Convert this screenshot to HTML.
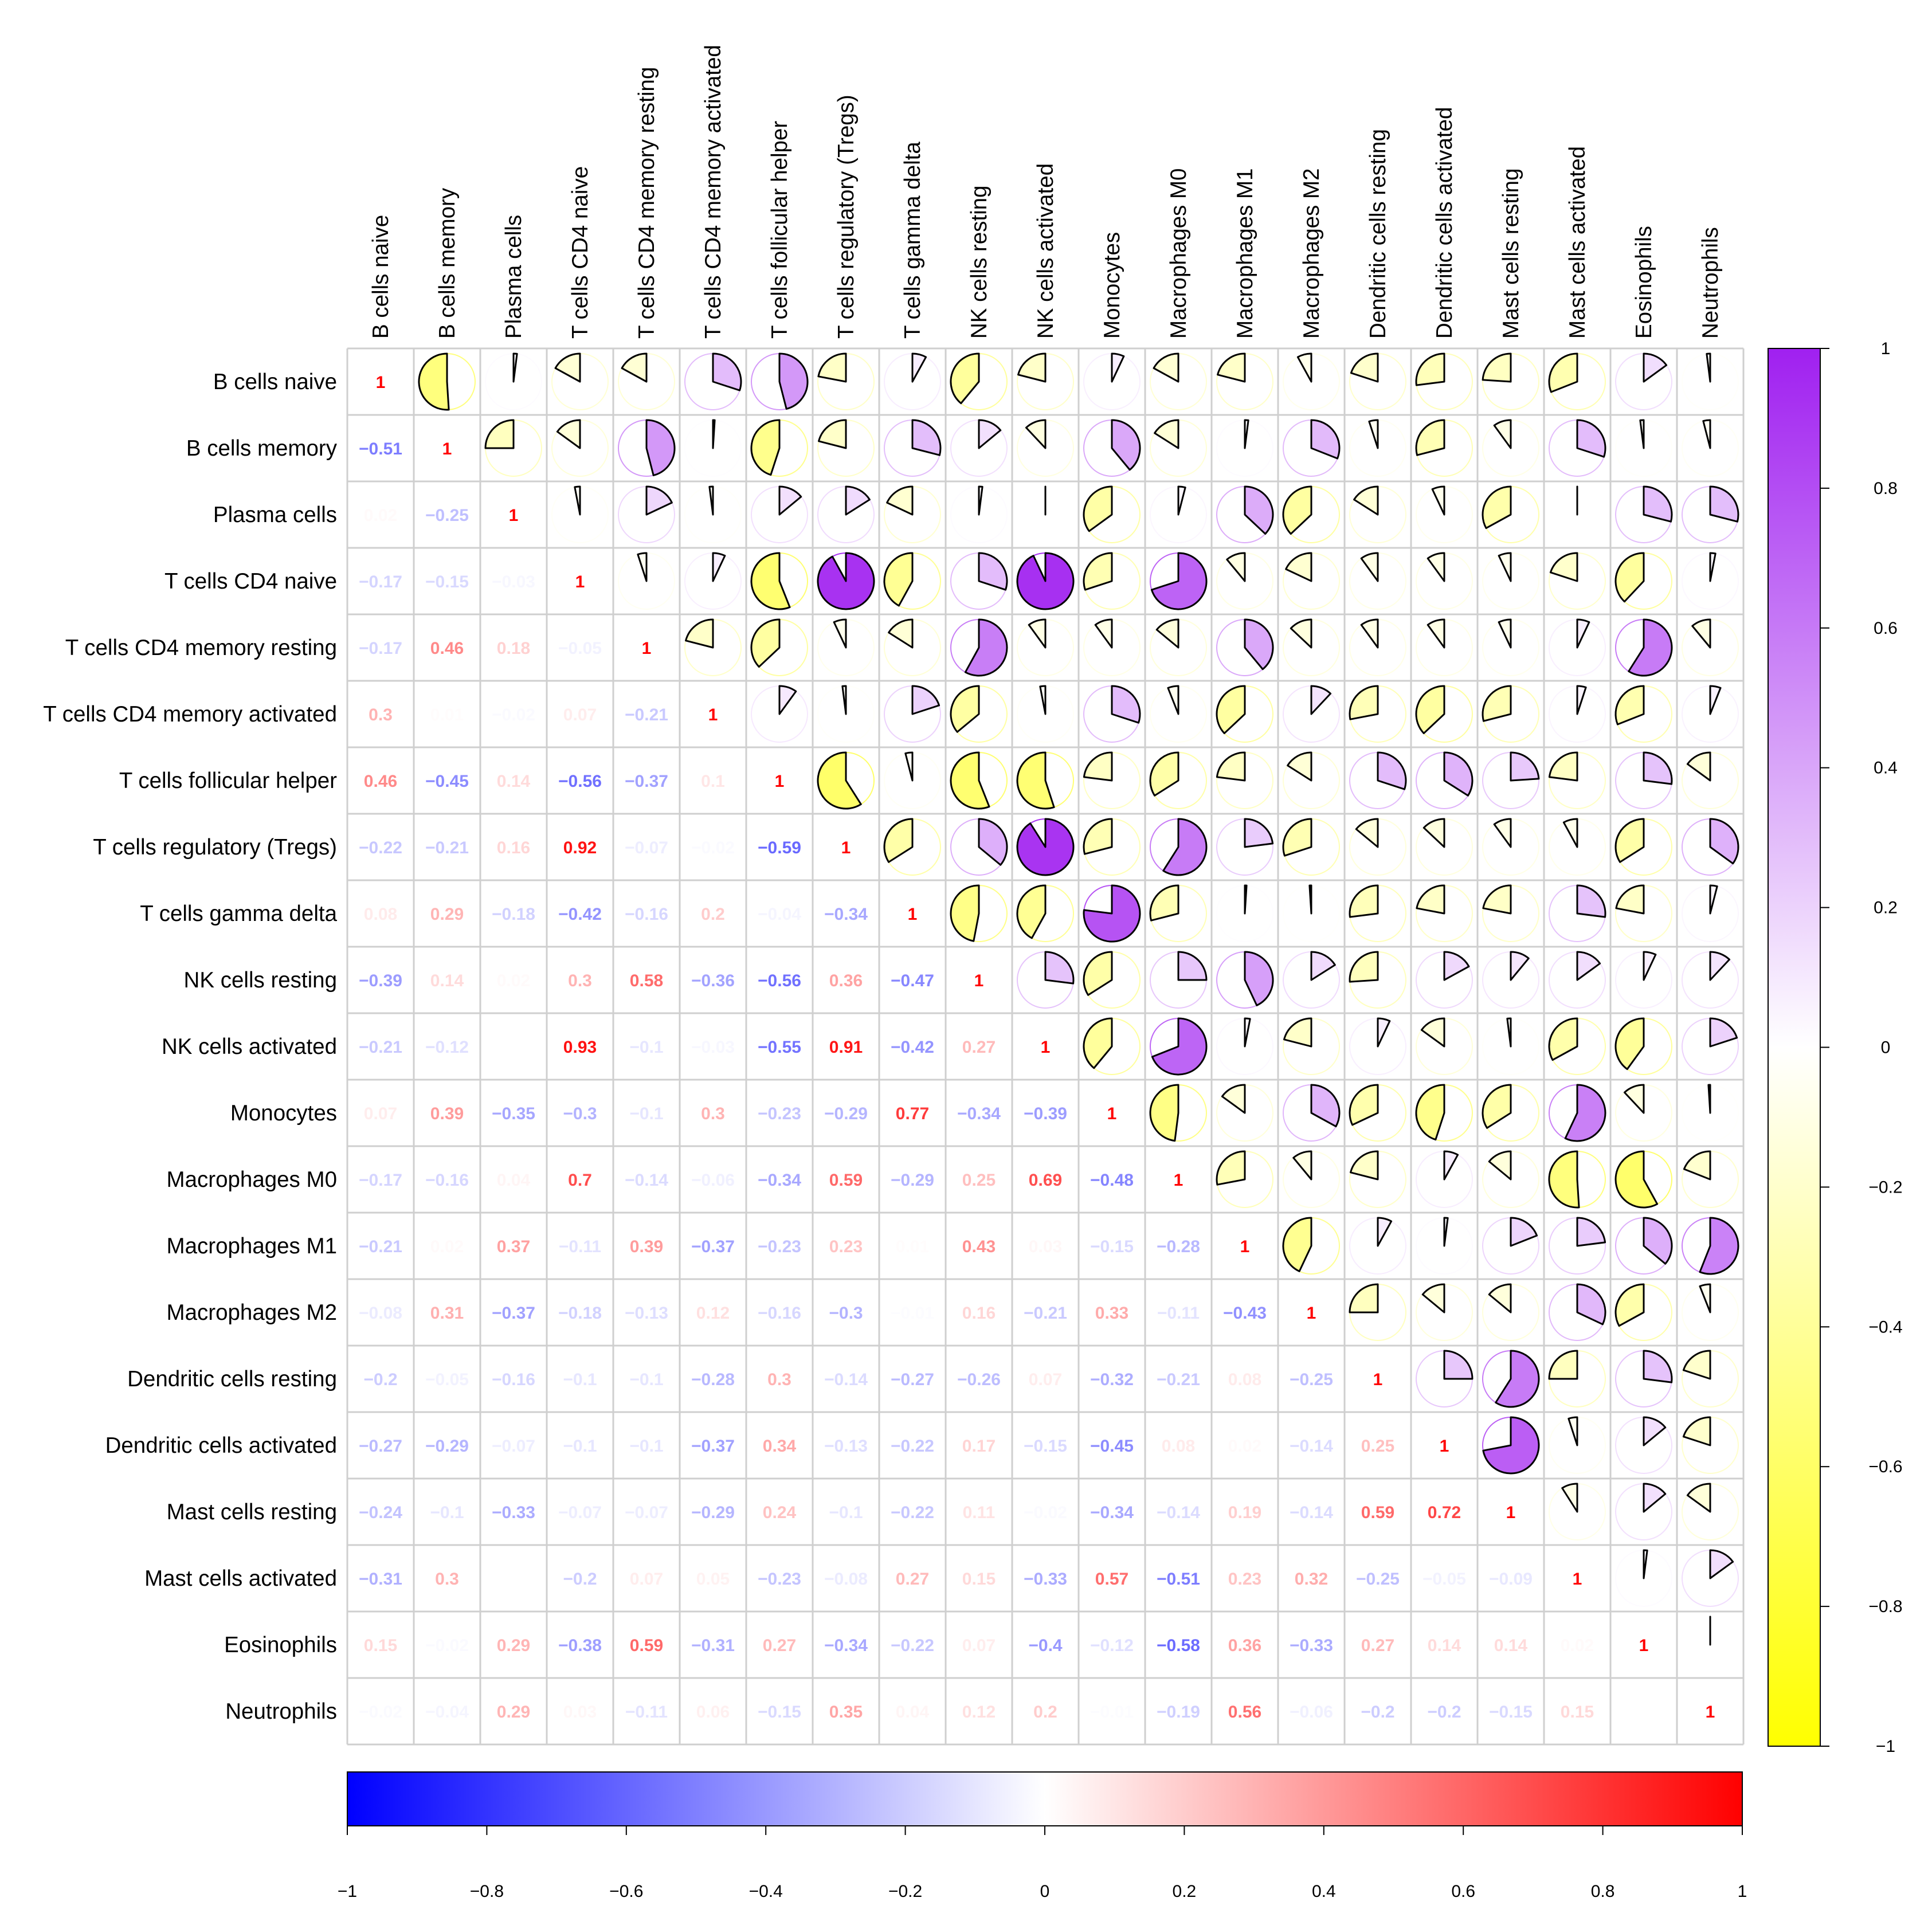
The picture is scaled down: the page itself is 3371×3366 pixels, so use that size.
<!DOCTYPE html>
<html><head><meta charset="utf-8">
<style>
html,body{margin:0;padding:0;background:#fff;}
svg{display:block;font-family:"Liberation Sans",Arial,sans-serif;}
</style></head>
<body>
<svg id="chart" width="3371" height="3366" viewBox="0 0 3371 3366" xmlns="http://www.w3.org/2000/svg">
<defs>
<linearGradient id="gBWR" x1="0" x2="1" y1="0" y2="0">
<stop offset="0" stop-color="#0000ff"/><stop offset="0.5" stop-color="#ffffff"/><stop offset="1" stop-color="#ff0000"/>
</linearGradient>
<linearGradient id="gYP" x1="0" x2="0" y1="1" y2="0">
<stop offset="0" stop-color="#ffff00"/><stop offset="0.5" stop-color="#ffffff"/><stop offset="1" stop-color="#a020f0"/>
</linearGradient>
</defs>
<g id="grid"></g>
<g id="marks"></g>
<g id="labels"></g>
<g id="legend"></g>
</svg>
<script>
const cellNames = ["B cells naive","B cells memory","Plasma cells","T cells CD4 naive","T cells CD4 memory resting","T cells CD4 memory activated","T cells follicular helper","T cells regulatory (Tregs)","T cells gamma delta","NK cells resting","NK cells activated","Monocytes","Macrophages M0","Macrophages M1","Macrophages M2","Dendritic cells resting","Dendritic cells activated","Mast cells resting","Mast cells activated","Eosinophils","Neutrophils"];
const corrLower = [
 [],
 [-0.51],
 [0.02,-0.25],
 [-0.17,-0.15,-0.03],
 [-0.17,0.46,0.18,-0.05],
 [0.3,0.01,-0.02,0.07,-0.21],
 [0.46,-0.45,0.14,-0.56,-0.37,0.1],
 [-0.22,-0.21,0.16,0.92,-0.07,-0.02,-0.59],
 [0.08,0.29,-0.18,-0.42,-0.16,0.2,-0.04,-0.34],
 [-0.39,0.14,0.02,0.3,0.58,-0.36,-0.56,0.36,-0.47],
 [-0.21,-0.12,0,0.93,-0.1,-0.03,-0.55,0.91,-0.42,0.27],
 [0.07,0.39,-0.35,-0.3,-0.1,0.3,-0.23,-0.29,0.77,-0.34,-0.39],
 [-0.17,-0.16,0.04,0.7,-0.14,-0.06,-0.34,0.59,-0.29,0.25,0.69,-0.48],
 [-0.21,0.02,0.37,-0.11,0.39,-0.37,-0.23,0.23,0.01,0.43,0.03,-0.15,-0.28],
 [-0.08,0.31,-0.37,-0.18,-0.13,0.12,-0.16,-0.3,-0.01,0.16,-0.21,0.33,-0.11,-0.43],
 [-0.2,-0.05,-0.16,-0.1,-0.1,-0.28,0.3,-0.14,-0.27,-0.26,0.07,-0.32,-0.21,0.08,-0.25],
 [-0.27,-0.29,-0.07,-0.1,-0.1,-0.37,0.34,-0.13,-0.22,0.17,-0.15,-0.45,0.08,0.02,-0.14,0.25],
 [-0.24,-0.1,-0.33,-0.07,-0.07,-0.29,0.24,-0.1,-0.22,0.11,-0.02,-0.34,-0.14,0.19,-0.14,0.59,0.72],
 [-0.31,0.3,0,-0.2,0.07,0.05,-0.23,-0.08,0.27,0.15,-0.33,0.57,-0.51,0.23,0.32,-0.25,-0.05,-0.09],
 [0.15,-0.02,0.29,-0.38,0.59,-0.31,0.27,-0.34,-0.22,0.07,-0.4,-0.12,-0.58,0.36,-0.33,0.27,0.14,0.14,0.02],
 [-0.02,-0.04,0.29,0.03,-0.11,0.06,-0.15,0.35,0.04,0.12,0.2,-0.01,-0.19,0.56,-0.06,-0.2,-0.2,-0.15,0.15,0]
];
const rightTicks = [1,0.8,0.6,0.4,0.2,0,-0.2,-0.4,-0.6,-0.8,-1];
const bottomTicks = [-1,-0.8,-0.6,-0.4,-0.2,0,0.2,0.4,0.6,0.8,1];

const NS="http://www.w3.org/2000/svg";
const N=cellNames.length, X0=606, Y0=608, CS=116;
const xC=j=>X0+CS*j+CS/2, yC=i=>Y0+CS*i+CS/2;
function mk(tag,attrs,parent){const e=document.createElementNS(NS,tag);for(const k in attrs)e.setAttribute(k,attrs[k]);parent.appendChild(e);return e;}
function mix(a,b,t){return 'rgb('+a.map((v,i)=>Math.round(v+(b[i]-v)*t)).join(',')+')';}
function bwr(v){return v>=0?mix([255,255,255],[255,0,0],v):mix([255,255,255],[0,0,255],-v);}
function yp(v){return v>=0?mix([255,255,255],[160,32,240],v):mix([255,255,255],[255,255,0],-v);}
function corr(i,j){if(i===j)return 1;return i>j?corrLower[i][j]:corrLower[j][i];}
const fmt=v=>{let s=String(Math.round(v*100)/100);return s.replace('-','\u2212');};

const grid=document.getElementById('grid'),marks=document.getElementById('marks'),labels=document.getElementById('labels'),legend=document.getElementById('legend');
for(let k=0;k<=N;k++){
 let l=mk('line',{x1:X0+CS*k,x2:X0+CS*k,y1:Y0,y2:Y0+CS*N,stroke:'#cfcfcf','stroke-width':3},grid);
 
 
 let h=mk('line',{x1:X0,x2:X0+CS*N,y1:Y0+CS*k,y2:Y0+CS*k,stroke:'#cfcfcf','stroke-width':3},grid);
 
 
}
const R=49;
for(let i=0;i<N;i++){for(let j=0;j<N;j++){
 const v=corr(i,j);
 if(j<=i){
  const t=mk('text',{x:xC(j),y:yC(i)+11,'text-anchor':'middle','font-size':30,'font-weight':'bold',fill:bwr(v)},marks);
  t.textContent=fmt(v);
  
  
 } else {
  const cx=xC(j),cy=yC(i);
  const c=mk('circle',{cx:cx,cy:cy,r:R,fill:'none',stroke:yp(v),'stroke-width':2},marks);
  
  
  const a=Math.abs(v)*2*Math.PI, dir=v>=0?1:-1;
  let p;
  if(Math.abs(v)>=0.999){p=mk('circle',{cx:cx,cy:cy,r:R},marks);}
  else{
   const ex=cx+dir*R*Math.sin(a), ey=cy-R*Math.cos(a);
   const large=a>Math.PI?1:0, sweep=v>=0?1:0;
   p=mk('path',{d:`M${cx},${cy} L${cx},${cy-R} A${R},${R} 0 ${large} ${sweep} ${ex.toFixed(2)},${ey.toFixed(2)} Z`},marks);
  }
  p.setAttribute('fill',yp(v));p.setAttribute('stroke','#000');p.setAttribute('stroke-width',3);p.setAttribute('stroke-linejoin','round');
  
  
 }
}}
cellNames.forEach((n,i)=>{
 const t=mk('text',{x:588,y:yC(i)+13,'text-anchor':'end','font-size':38.5,fill:'#000'},labels);
 t.textContent=n;
 
 
 const c=mk('text',{x:0,y:0,'text-anchor':'start','font-size':38.5,fill:'#000',transform:`translate(${xC(i)+13},591) rotate(-90)`},labels);
 c.textContent=n;
 
 
});
const RX=3085,RW=91,RY0=608,RY1=3047;
const rb=mk('rect',{x:RX,y:RY0,width:RW,height:RY1-RY0,fill:'url(#gYP)',stroke:'#000','stroke-width':2},legend);


rightTicks.forEach(v=>{
 const y=RY0+(1-v)/2*(RY1-RY0);
 const tk=mk('line',{x1:RX+RW,x2:RX+RW+16,y1:y,y2:y,stroke:'#000','stroke-width':2},legend);
 
 
 const t=mk('text',{x:3290,y:y+10,'text-anchor':'middle','font-size':30,fill:'#000'},legend);
 t.textContent=fmt(v);
 
 
});
const BX0=606,BX1=3040,BY=3092,BH=94;
const bb=mk('rect',{x:BX0,y:BY,width:BX1-BX0,height:BH,fill:'url(#gBWR)',stroke:'#000','stroke-width':2},legend);


bottomTicks.forEach(v=>{
 const x=BX0+(v+1)/2*(BX1-BX0);
 const tk=mk('line',{x1:x,x2:x,y1:BY+BH,y2:BY+BH+16,stroke:'#000','stroke-width':2},legend);
 
 
 const t=mk('text',{x:x,y:3310,'text-anchor':'middle','font-size':30,fill:'#000'},legend);
 t.textContent=fmt(v);
 
 
});
</script>
</body></html>
